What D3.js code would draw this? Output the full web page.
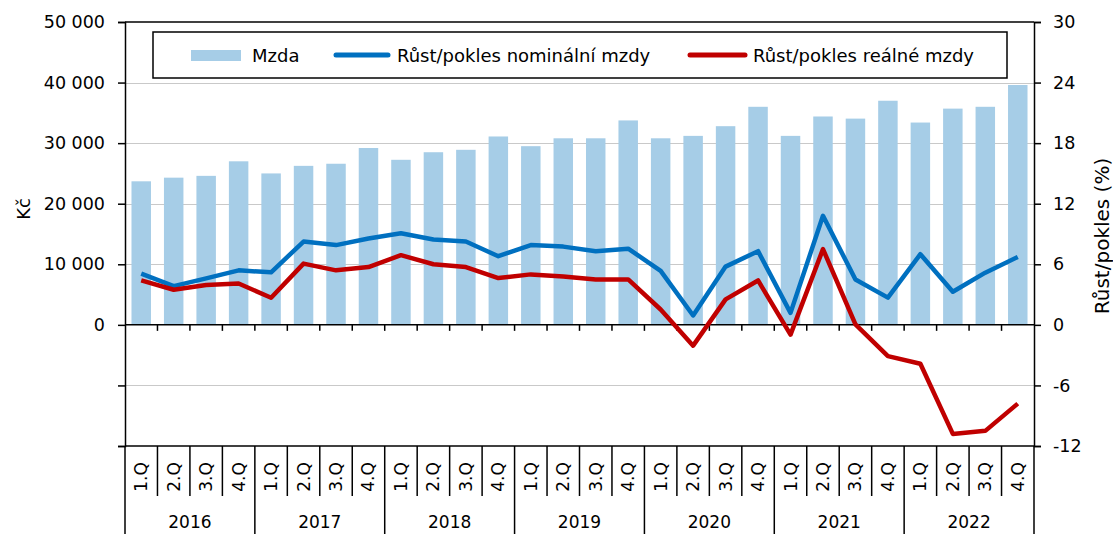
<!DOCTYPE html>
<html>
<head>
<meta charset="utf-8">
<script src="https://cdn.jsdelivr.net/npm/d3@7/dist/d3.min.js"></script>
<style>
  html, body { margin: 0; padding: 0; background: #fff; }
  svg { display: block; }
  text { font-family: "DejaVu Sans", sans-serif; fill: #000; }
</style>
</head>
<body>
<svg id="chart" width="1113" height="534"></svg>
<script>
// ---- Data ----
const years = ["2016", "2017", "2018", "2019", "2020", "2021", "2022"];
const quarters = ["1.Q", "2.Q", "3.Q", "4.Q"];
const categories = years.flatMap(y => quarters.map(q => y + " " + q));

// Mzda (Kč)
const wage = [23700, 24300, 24600, 27000, 25000, 26250, 26600, 29200,
              27250, 28500, 28900, 31100, 29500, 30800, 30800, 33750,
              30800, 31200, 32800, 36000, 31200, 34400, 34050, 37000,
              33400, 35700, 36000, 39600];
// Růst/pokles nominální mzdy (%)
const nominal = [5.07, 3.84, 4.6, 5.4, 5.2, 8.25, 7.9, 8.55,
                 9.08, 8.45, 8.25, 6.8, 7.9, 7.75, 7.3, 7.55,
                 5.35, 0.93, 5.77, 7.3, 1.19, 10.8, 4.5, 2.7,
                 7.0, 3.28, 5.17, 6.73];
// Růst/pokles reálné mzdy (%)
const real = [4.4, 3.48, 3.94, 4.1, 2.68, 6.07, 5.4, 5.73,
              6.9, 6.0, 5.73, 4.64, 5.0, 4.8, 4.5, 4.5,
              1.52, -2.06, 2.52, 4.4, -0.97, 7.5, 0.05, -3.1,
              -3.85, -10.8, -10.5, -7.8];

const leftTicks = [-20000, -10000, 0, 10000, 20000, 30000, 40000, 50000];
const leftLabelled = [0, 10000, 20000, 30000, 40000, 50000];
const rightTicks = [-12, -6, 0, 6, 12, 18, 24, 30];
const seriesNames = ["Mzda", "Růst/pokles nominální mzdy", "Růst/pokles reálné mzdy"];

// ---- Layout ----
const L = 125, R = 1034, T = 22, B = 446;
const colors = { bar: "#a6cde7", nominal: "#0070c0", real: "#c00000", grid: "#c9c9c9" };

const svg = d3.select("#chart");

const x = d3.scaleBand().domain(categories).range([L, R]).paddingInner(0.4).paddingOuter(0.2);
const yL = d3.scaleLinear().domain([-20000, 50000]).range([B, T]);
const yR = d3.scaleLinear().domain([-12, 30]).range([B, T]);
const step = x.step();

// gridlines
svg.append("g").selectAll("line")
  .data(leftTicks.filter(v => v !== 0 && v !== 50000 && v !== -20000))
  .join("line")
  .attr("x1", L).attr("x2", R)
  .attr("y1", d => Math.round(yL(d)) + 0.5).attr("y2", d => Math.round(yL(d)) + 0.5)
  .attr("stroke", colors.grid).attr("stroke-width", 1.2);

// bars
svg.append("g").selectAll("rect")
  .data(wage)
  .join("rect")
  .attr("x", (d, i) => x(categories[i]))
  .attr("width", x.bandwidth())
  .attr("y", d => yL(d))
  .attr("height", d => yL(0) - yL(d))
  .attr("fill", colors.bar);

// top border
svg.append("line").attr("x1", L).attr("x2", R).attr("y1", T).attr("y2", T)
  .attr("stroke", "#000").attr("stroke-width", 1.5);

// zero line with small ticks
const zy = yL(0);
svg.append("line").attr("x1", L).attr("x2", R).attr("y1", zy).attr("y2", zy)
  .attr("stroke", "#000").attr("stroke-width", 1.5);
svg.append("g").selectAll("line")
  .data(categories.slice(1))
  .join("line")
  .attr("x1", d => x(d) - step * 0.2).attr("x2", d => x(d) - step * 0.2)
  .attr("y1", zy).attr("y2", zy + 6)
  .attr("stroke", "#000").attr("stroke-width", 1.5);

// left axis
const fmt = v => d3.format(",")(v).replace(/,/g, " ");
const axL = svg.append("g").attr("transform", `translate(${L},0)`)
  .call(d3.axisLeft(yL).tickValues(leftTicks).tickSize(7).tickPadding(13)
    .tickFormat(v => leftLabelled.includes(v) ? fmt(v) : ""));
axL.select(".domain").attr("stroke", "#000").attr("stroke-width", 1.5);
axL.selectAll(".tick line").attr("stroke", "#000").attr("stroke-width", 1.5);
axL.selectAll("text").attr("font-size", 17.5).attr("font-family", "DejaVu Sans").attr("fill", "#000");

// right axis
const axR = svg.append("g").attr("transform", `translate(${R},0)`)
  .call(d3.axisRight(yR).tickValues(rightTicks).tickSize(7).tickPadding(12)
    .tickFormat(v => String(v)));
axR.select(".domain").attr("stroke", "#000").attr("stroke-width", 1.5);
axR.selectAll(".tick line").attr("stroke", "#000").attr("stroke-width", 1.5);
axR.selectAll("text").attr("font-size", 17.5).attr("font-family", "DejaVu Sans").attr("fill", "#000");

// axis titles
svg.append("text").attr("transform", `translate(30,209) rotate(-90)`)
  .attr("text-anchor", "middle").attr("font-size", 18).text("Kč");
svg.append("text").attr("transform", `translate(1109,236) rotate(-90)`)
  .attr("text-anchor", "middle").attr("font-size", 20).text("Růst/pokles (%)");

// bottom category axis
svg.append("line").attr("x1", L).attr("x2", R).attr("y1", B).attr("y2", B)
  .attr("stroke", "#000").attr("stroke-width", 1.5);
svg.append("line").attr("x1", L).attr("x2", L).attr("y1", B).attr("y2", 534)
  .attr("stroke", "#000").attr("stroke-width", 1.5);
svg.append("g").selectAll("line")
  .data(categories.slice(1).concat(["end"]))
  .join("line")
  .attr("x1", (d, i) => L + (i + 1) * step).attr("x2", (d, i) => L + (i + 1) * step)
  .attr("y1", B)
  .attr("y2", (d, i) => ((i + 1) % 4 === 0) ? 534 : 496)
  .attr("stroke", "#000").attr("stroke-width", 1.5);
svg.append("g").selectAll("text")
  .data(categories)
  .join("text")
  .attr("transform", d => `translate(${x(d) + x.bandwidth() / 2 + 6},477) rotate(-90)`)
  .attr("text-anchor", "middle").attr("font-size", 17)
  .text(d => d.split(" ")[1]);
svg.append("g").selectAll("text")
  .data(years)
  .join("text")
  .attr("x", (d, i) => L + (i * 4 + 2) * step)
  .attr("y", 528)
  .attr("text-anchor", "middle").attr("font-size", 17)
  .text(d => d);

// lines
const line = d3.line()
  .x((d, i) => x(categories[i]) + x.bandwidth() / 2)
  .y(d => yR(d));
svg.append("path").datum(nominal).attr("d", line)
  .attr("fill", "none").attr("stroke", colors.nominal).attr("stroke-width", 4.5)
  .attr("stroke-linejoin", "round");
svg.append("path").datum(real).attr("d", line)
  .attr("fill", "none").attr("stroke", colors.real).attr("stroke-width", 4.5)
  .attr("stroke-linejoin", "round");

// legend
const lg = svg.append("g");
lg.append("rect").attr("x", 153).attr("y", 32).attr("width", 854).attr("height", 46)
  .attr("fill", "#fff").attr("stroke", "#000").attr("stroke-width", 1.5);
lg.append("rect").attr("x", 191).attr("y", 50).attr("width", 50).attr("height", 11).attr("fill", colors.bar);
lg.append("text").attr("x", 252).attr("y", 62).attr("font-size", 18).text(seriesNames[0]);
lg.append("line").attr("x1", 336).attr("x2", 388).attr("y1", 55).attr("y2", 55)
  .attr("stroke", colors.nominal).attr("stroke-width", 5).attr("stroke-linecap", "round");
lg.append("text").attr("x", 397).attr("y", 62).attr("font-size", 18).text(seriesNames[1]);
lg.append("line").attr("x1", 690).attr("x2", 745).attr("y1", 55).attr("y2", 55)
  .attr("stroke", colors.real).attr("stroke-width", 5).attr("stroke-linecap", "round");
lg.append("text").attr("x", 753).attr("y", 62).attr("font-size", 18).text(seriesNames[2]);
</script>
</body>
</html>
